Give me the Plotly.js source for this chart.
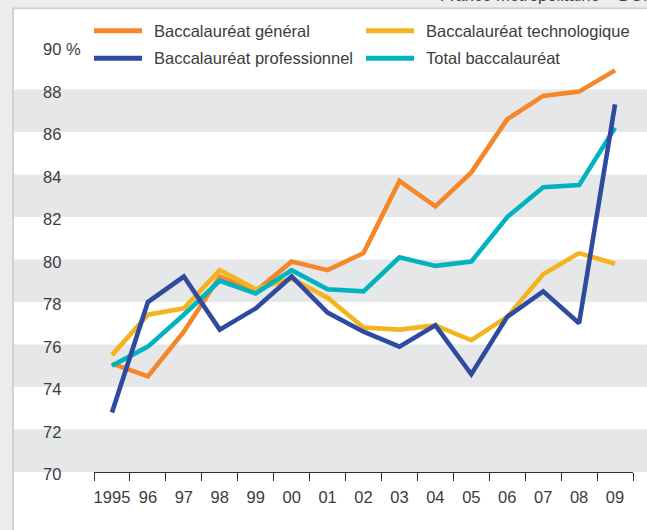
<!DOCTYPE html>
<html>
<head>
<meta charset="utf-8">
<script src="https://cdn.plot.ly/plotly-3.0.1.min.js"></script>
<style>
html,body{margin:0;padding:0;background:#fff;}
#chart{width:647px;height:530px;}
</style>
</head>
<body>
<div id="chart"></div>
<script>
// ---- Data ----
const years = ['1995','96','97','98','99','00','01','02','03','04','05','06','07','08','09'];
const general = [75.1,74.5,76.6,79.2,78.5,79.9,79.5,80.3,83.7,82.5,84.1,86.6,87.7,87.9,88.9];
const techno  = [75.5,77.4,77.7,79.5,78.6,79.1,78.2,76.8,76.7,76.9,76.2,77.3,79.3,80.3,79.8];
const pro     = [72.8,78.0,79.2,76.7,77.7,79.2,77.5,76.6,75.9,76.9,74.6,77.3,78.5,77.0,87.3];
const total   = [75.0,75.9,77.4,79.0,78.4,79.5,78.6,78.5,80.1,79.7,79.9,82.0,83.4,83.5,86.2];
const seriesNames = ['Baccalauréat général','Baccalauréat technologique','Baccalauréat professionnel','Total baccalauréat'];
const yTickVals = [70,72,74,76,78,80,82,84,86,88,90];
const yTickText = ['70','72','74','76','78','80','82','84','86','88','90 %'];
const bandRanges = [[70,72],[74,76],[78,80],[82,84],[86,88]];
const cornerNote = 'France métropolitaine + DOM';

// ---- Layout helpers ----
const W = 647, H = 530;
const M = {l:94, r:14, t:47, b:58};
const PW = W - M.l - M.r, PH = H - M.t - M.b;
const px2x = p => (p - M.l) / PW;
const py2y = p => (H - M.b - p) / PH;

const FONT = 'Liberation Sans, Arial, Helvetica, sans-serif';
const FS = 16.5;
const TXT = '#3c3c3c';
const colors = {general:'#F5862A', techno:'#F4B41F', pro:'#2F4B9F', total:'#00B3BF'};
const LW = 4.6;

const mk = (y, c, name) => ({
  x: years, y: y, type: 'scatter', mode: 'lines', name: name,
  line: {color: c, width: LW}, showlegend: false, hoverinfo: 'x+y'
});

const data = [
  mk(general, colors.general, seriesNames[0]),
  mk(techno, colors.techno, seriesNames[1]),
  mk(total, colors.total, seriesNames[3]),
  mk(pro, colors.pro, seriesNames[2])
];

const shapes = [];
// background frame strips
shapes.push({type:'rect', xref:'paper', yref:'paper', x0:px2x(0), x1:px2x(12), y0:py2y(H), y1:py2y(0), fillcolor:'#ececec', line:{width:0}, layer:'below'});
shapes.push({type:'rect', xref:'paper', yref:'paper', x0:px2x(0), x1:px2x(W), y0:py2y(7.5), y1:py2y(0), fillcolor:'#ececec', line:{width:0}, layer:'below'});
shapes.push({type:'line', xref:'paper', yref:'paper', x0:px2x(13), x1:px2x(13), y0:py2y(H), y1:py2y(8), line:{color:'#d2d2d2', width:2}, layer:'below'});
shapes.push({type:'line', xref:'paper', yref:'paper', x0:px2x(12), x1:px2x(W), y0:py2y(8.3), y1:py2y(8.3), line:{color:'#d2d2d2', width:2}, layer:'below'});
// bands
bandRanges.forEach(b => shapes.push({type:'rect', xref:'paper', yref:'y', x0:px2x(14), x1:px2x(W+2), y0:b[0], y1:b[1], fillcolor:'#e6e7e8', line:{width:0}, layer:'below'}));

const annotations = [];
// y tick labels (left aligned)
yTickVals.forEach((v,i) => annotations.push({xref:'paper', yref:'y', x:px2x(41), y:v, xanchor:'left', yanchor:'middle', yshift:-2, text:yTickText[i], showarrow:false, font:{family:FONT, size:FS, color:TXT}}));
// custom legend
const legendItems = [
  {name:seriesNames[0], color:colors.general, lx:94, ty:30.7},
  {name:seriesNames[1], color:colors.techno, lx:366, ty:30.7},
  {name:seriesNames[2], color:colors.pro, lx:94, ty:58.3},
  {name:seriesNames[3], color:colors.total, lx:366, ty:58.3}
];
legendItems.forEach(it => {
  shapes.push({type:'line', xref:'paper', yref:'paper', x0:px2x(it.lx), x1:px2x(it.lx+48), y0:py2y(it.ty), y1:py2y(it.ty), line:{color:it.color, width:5}});
  annotations.push({xref:'paper', yref:'paper', x:px2x(it.lx+58), y:py2y(it.ty), xanchor:'left', yanchor:'middle', text:it.name, showarrow:false, font:{family:FONT, size:FS, color:TXT}});
});
annotations.push({xref:'paper', yref:'paper', x:px2x(438), y:py2y(6), xanchor:'left', yanchor:'bottom', text:cornerNote, showarrow:false, font:{family:FONT, size:FS, color:TXT}});

const layout = {
  width: W, height: H,
  margin: M,
  paper_bgcolor: '#ffffff', plot_bgcolor: 'rgba(0,0,0,0)',
  showlegend: false,
  font: {family: FONT, size: FS, color: TXT},
  xaxis: {
    type:'category', range:[-0.5, 14.5], tickson:'boundaries',
    ticks:'outside', ticklen:8, tickwidth:1, tickcolor:'#333', tickangle:0,
    ticklabelstandoff: 10,
    showline:true, linecolor:'#333', linewidth:1.2,
    showgrid:false, zeroline:false, fixedrange:true,
    tickfont:{family:FONT, size:FS, color:TXT}
  },
  yaxis: {
    range:[70, 90], showticklabels:false, ticks:'', showgrid:false, zeroline:false, showline:false, fixedrange:true,
    tickvals: yTickVals
  },
  shapes: shapes,
  annotations: annotations
};

Plotly.newPlot('chart', data, layout, {displayModeBar:false, staticPlot:true});
</script>
</body>
</html>
